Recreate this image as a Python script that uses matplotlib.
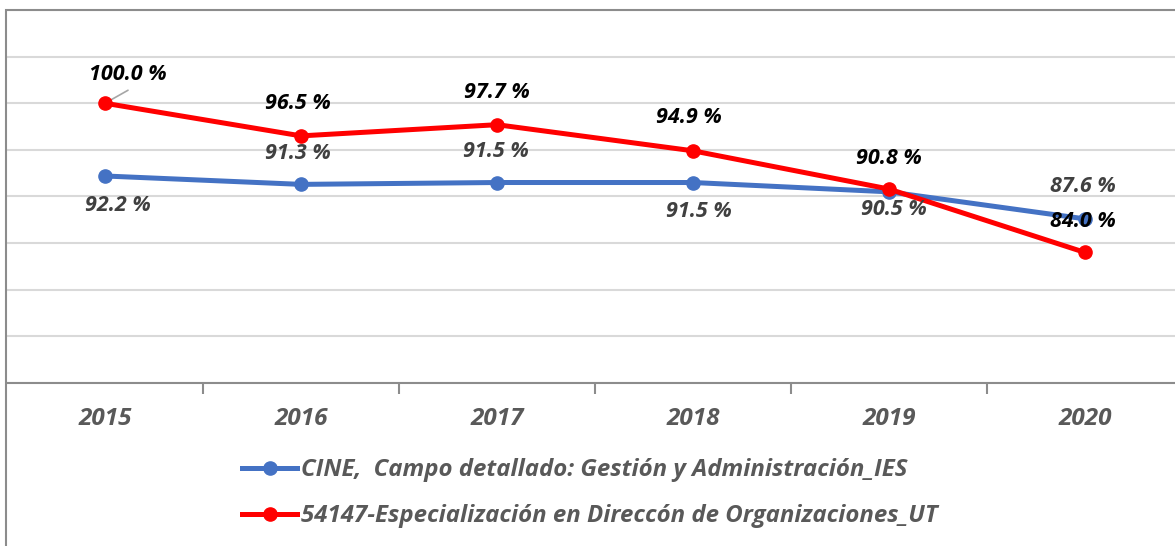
import matplotlib
matplotlib.use("Agg")
import matplotlib.pyplot as plt
from matplotlib.patches import Rectangle

# ─────────────────────────────────────────────
# DATA
# ─────────────────────────────────────────────
years = ["2015", "2016", "2017", "2018", "2019", "2020"]
cine_values = [92.2, 91.3, 91.5, 91.5, 90.5, 87.6]
esp_values = [100.0, 96.5, 97.7, 94.9, 90.8, 84.0]
cine_label = "CINE,  Campo detallado: Gestión y Administración_IES"
esp_label = "54147-Especialización en Direccón de Organizaciones_UT"

# label offsets in pixels (dx, dy) relative to each point
cine_offsets = [(13, -30), (-3, 31), (-1, 31), (6, -29), (5, -18), (-2, 32)]
esp_offsets = [(23, 29), (-3, 32), (0, 32), (-4, 33), (0, 31), (-2, 31)]

BLUE = "#4472C4"
RED = "#FF0000"
FONT = "Open Sans"

W, H = 1175, 546
fig = plt.figure(figsize=(W / 100, H / 100), dpi=100)

# outer chart border (partly cropped at right/bottom)
fig.patches.append(Rectangle((6 / W, -0.2), 1.2, 1.2 - 10 / H + 0.0,
                             transform=fig.transFigure, fill=False,
                             edgecolor="#8C8C8C", linewidth=1.5))

ax = fig.add_axes([7 / W, 1 - 383 / H, 1176 / W, 373 / H])
x = list(range(len(years)))

ax.plot(x, cine_values, color=BLUE, lw=3.6, marker="o", ms=9.5,
        label=cine_label, zorder=3)
ax.plot(x, esp_values, color=RED, lw=3.6, marker="o", ms=9.5,
        label=esp_label, zorder=4)

ax.set_xlim(-0.5, 5.5)
ax.set_ylim(70, 110)
ax.set_yticks(range(70, 111, 5))
ax.yaxis.grid(True, color="#D9D9D9", lw=1.5)
ax.set_axisbelow(True)
ax.tick_params(axis="y", left=False, labelleft=False)

# category ticks between groups, labels centred
ax.set_xticks([i + 0.5 for i in x[:-1]])
ax.set_xticklabels([])
ax.set_xticks(x, minor=True)
ax.set_xticklabels(years, minor=True, fontfamily=FONT, fontsize=17.5,
                   fontweight="bold", fontstyle="italic", color="#595959")
ax.tick_params(axis="x", which="major", length=8, color="#8C8C8C", width=1.5,
               direction="out")
ax.tick_params(axis="x", which="minor", length=0, pad=17.5)

for side in ["left", "right", "top"]:
    ax.spines[side].set_visible(False)
ax.spines["bottom"].set_color("#8C8C8C")
ax.spines["bottom"].set_linewidth(1.5)

# data labels
for i, (v, off) in enumerate(zip(cine_values, cine_offsets)):
    ax.annotate(f"{v:.1f} %", (i, v), xytext=off, textcoords="offset pixels",
                ha="center", va="center", fontfamily=FONT, fontsize=15.5,
                fontweight="bold", fontstyle="italic", color="#404040",
                zorder=5)
for i, (v, off) in enumerate(zip(esp_values, esp_offsets)):
    ax.annotate(f"{v:.1f} %", (i, v), xytext=off, textcoords="offset pixels",
                ha="center", va="center", fontfamily=FONT, fontsize=15.5,
                fontweight="bold", fontstyle="italic", color="black",
                zorder=6)

# leader line for the first red label
ax.annotate("", (0, esp_values[0]), xytext=(23, 13), textcoords="offset pixels",
            arrowprops=dict(arrowstyle="-", color="#A6A6A6", lw=1.2,
                            shrinkA=0, shrinkB=2))

leg = fig.legend(loc="center left", bbox_to_anchor=(242 / W, 1 - 493 / H),
                 frameon=False, borderpad=0, borderaxespad=0,
                 handlelength=2.3, handletextpad=0.15, labelspacing=0.92,
                 prop=dict(family=FONT, size=17.3, weight="bold",
                           style="italic"))
for t in leg.get_texts():
    t.set_color("#595959")

fig.savefig("out.png", dpi=100)
